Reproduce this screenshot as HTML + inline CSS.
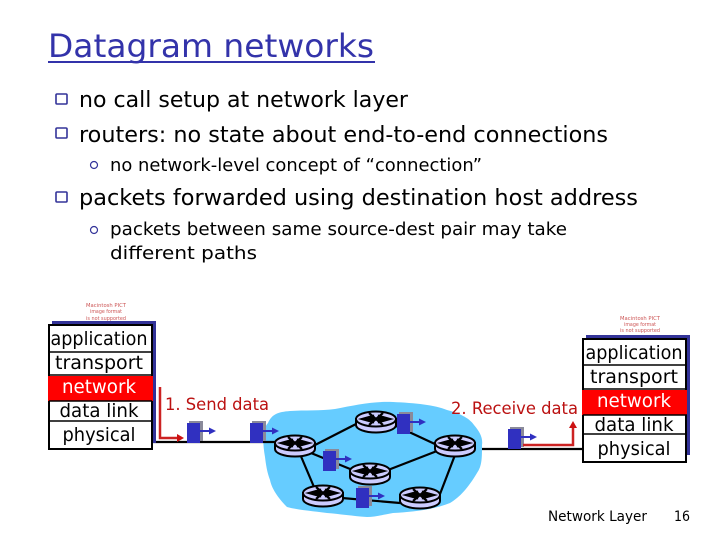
<!DOCTYPE html>
<html><head><meta charset="utf-8"><style>
html,body{margin:0;padding:0;background:#fff;width:720px;height:540px;overflow:hidden}
svg{display:block}
text{font-family:"DejaVu Sans","Liberation Sans",sans-serif}
</style></head><body>
<svg width="720" height="540" viewBox="0 0 720 540" xmlns="http://www.w3.org/2000/svg">
<defs>
<g id="r">
<path d="M-20,-3 V3 A20,7.500 0 0 0 20,3 V-3 Z" fill="#ccccff" stroke="#000" stroke-width="2"/>
<ellipse cx="0" cy="-3" rx="20" ry="7.500" fill="#ccccff" stroke="#000" stroke-width="2"/>
<path d="M-14,-3 L-3,-6 V0 Z M14,-3 L3,-6 V0 Z M-7,-9 L7,3 M7,-9 L-7,3" fill="#000" stroke="#000" stroke-width="2.200"/>
</g>
<g id="p">
<rect x="2" y="-2" width="14" height="20" fill="#8a8a9a"/>
<rect x="0" y="0" width="13" height="20" fill="#3030c0"/>
<path d="M13,8 H24" stroke="#3030c0" stroke-width="2"/>
<path d="M22,4.500 L29,8 L22,11.500 Z" fill="#3030c0"/>
</g>
</defs>

<!-- title -->
<text x="48" y="57" font-size="32" fill="#3333aa" textLength="326" lengthAdjust="spacingAndGlyphs">Datagram networks</text>
<rect x="48" y="61" width="327" height="2" fill="#3333aa"/>

<!-- bullets -->
<g fill="#fff" stroke="#333399" stroke-width="1.600">
<rect x="56" y="94" width="11" height="10" rx="1"/>
<rect x="56" y="128" width="11" height="10" rx="1"/>
<rect x="56" y="192" width="11" height="10" rx="1"/>
</g>
<g fill="#fff" stroke="#333399" stroke-width="1.200">
<circle cx="94" cy="165" r="3.500"/>
<circle cx="94" cy="230" r="3.500"/>
</g>
<g fill="#000">
<text x="79" y="107" font-size="22" textLength="329" lengthAdjust="spacingAndGlyphs">no call setup at network layer</text>
<text x="79" y="142" font-size="22" textLength="529" lengthAdjust="spacingAndGlyphs">routers: no state about end-to-end connections</text>
<text x="110" y="171" font-size="18" textLength="372" lengthAdjust="spacingAndGlyphs">no network-level concept of “connection”</text>
<text x="79" y="205" font-size="22" textLength="559" lengthAdjust="spacingAndGlyphs">packets forwarded using destination host address</text>
<text x="110" y="235" font-size="18" textLength="457" lengthAdjust="spacingAndGlyphs">packets between same source-dest pair may take</text>
<text x="110" y="259" font-size="18" textLength="147" lengthAdjust="spacingAndGlyphs">different paths</text>
</g>

<!-- cloud -->
<path d="M265,457 C262,440 263,428 268,423 C272,414 278,412 290,411 C305,410 320,411 335,409 C355,405 375,401 393,402 C415,403 435,405 447,410 C462,414 470,419 474,425 C480,432 483,438 482,445 C482,458 482,466 477,473 C468,488 460,497 450,503 C432,510 412,512 393,513 C382,515 375,517 367,517 C352,516 340,514 327,513 C312,511 298,510 287,507 C280,500 272,490 270,480 C267,472 266,465 265,457 Z" fill="#66ccff"/>

<!-- links -->
<g stroke="#000" stroke-width="2.200" fill="none">
<path d="M152,442 H275"/>
<path d="M482,449 H582"/>
<path d="M315,445 L358,423"/>
<path d="M311,453 L355,471"/>
<path d="M300,454 L314,487"/>
<path d="M394,425 L437,445"/>
<path d="M388,470 L437,451"/>
<path d="M455,455 L440,494"/>
<path d="M342,498 L400,503"/>
</g>

<!-- routers -->
<use href="#r" x="295" y="446"/>
<use href="#r" x="376" y="422"/>
<use href="#r" x="455" y="446"/>
<use href="#r" x="370" y="474"/>
<use href="#r" x="323" y="496"/>
<use href="#r" x="420" y="498"/>

<!-- packets -->
<use href="#p" x="187" y="423"/>
<use href="#p" x="250" y="423"/>
<use href="#p" x="397" y="414"/>
<use href="#p" x="323" y="451"/>
<use href="#p" x="356" y="488"/>
<use href="#p" x="508" y="429"/>

<!-- red arrows -->
<path d="M160,387 V438 H178" fill="none" stroke="#cc2222" stroke-width="2.500"/>
<path d="M177,434 L184,438 L177,442 Z" fill="#cc1111"/>
<path d="M523,445 H573 V428" fill="none" stroke="#cc2222" stroke-width="2.500"/>
<path d="M569,428 L573,421 L577,428 Z" fill="#cc1111"/>

<!-- left stack -->
<rect x="52" y="321" width="104" height="122" fill="#333399"/>
<rect x="49" y="325" width="103" height="124" fill="#fff" stroke="#000" stroke-width="2"/>
<rect x="48" y="376" width="105" height="25" fill="#f00"/>
<path d="M49,352 H152 M49,375 H152 M49,401 H152 M49,421 H152" stroke="#000" stroke-width="1.600"/>
<g font-size="19" text-anchor="middle">
<text x="99" y="345" textLength="97" lengthAdjust="spacingAndGlyphs">application</text>
<text x="99" y="369" textLength="88" lengthAdjust="spacingAndGlyphs">transport</text>
<text x="99" y="393" fill="#fff" textLength="74" lengthAdjust="spacingAndGlyphs">network</text>
<text x="99" y="417" textLength="79" lengthAdjust="spacingAndGlyphs">data link</text>
<text x="99" y="441" textLength="73" lengthAdjust="spacingAndGlyphs">physical</text>
</g>

<!-- right stack -->
<rect x="586" y="335" width="104" height="120" fill="#333399"/>
<rect x="583" y="339" width="103" height="123" fill="#fff" stroke="#000" stroke-width="2"/>
<rect x="582" y="390" width="105" height="25" fill="#f00"/>
<path d="M583,365 H687 M583,389 H687 M583,415 H687 M583,434 H687" stroke="#000" stroke-width="1.600"/>
<g font-size="19" text-anchor="middle">
<text x="634" y="359" textLength="97" lengthAdjust="spacingAndGlyphs">application</text>
<text x="634" y="383" textLength="88" lengthAdjust="spacingAndGlyphs">transport</text>
<text x="634" y="407" fill="#fff" textLength="74" lengthAdjust="spacingAndGlyphs">network</text>
<text x="634" y="431" textLength="79" lengthAdjust="spacingAndGlyphs">data link</text>
<text x="634" y="455" textLength="73" lengthAdjust="spacingAndGlyphs">physical</text>
</g>

<!-- unsupported image notes -->
<g font-size="5.500" fill="#cc5555" text-anchor="middle">
<text x="106" y="307" textLength="40" lengthAdjust="spacingAndGlyphs">Macintosh PICT</text>
<text x="106" y="313" textLength="32" lengthAdjust="spacingAndGlyphs">image format</text>
<text x="106" y="320" textLength="40" lengthAdjust="spacingAndGlyphs">is not supported</text>
<text x="640" y="320" textLength="40" lengthAdjust="spacingAndGlyphs">Macintosh PICT</text>
<text x="640" y="326" textLength="32" lengthAdjust="spacingAndGlyphs">image format</text>
<text x="640" y="332" textLength="40" lengthAdjust="spacingAndGlyphs">is not supported</text>
</g>

<!-- labels -->
<g fill="#bb1111" font-size="17">
<text x="165" y="410" textLength="104" lengthAdjust="spacingAndGlyphs">1. Send data</text>
<text x="451" y="414" textLength="127" lengthAdjust="spacingAndGlyphs">2. Receive data</text>
</g>
<text x="548" y="521" font-size="14" textLength="99" lengthAdjust="spacingAndGlyphs">Network Layer</text>
<text x="674" y="521" font-size="14" textLength="16" lengthAdjust="spacingAndGlyphs">16</text>
</svg>
</body></html>
